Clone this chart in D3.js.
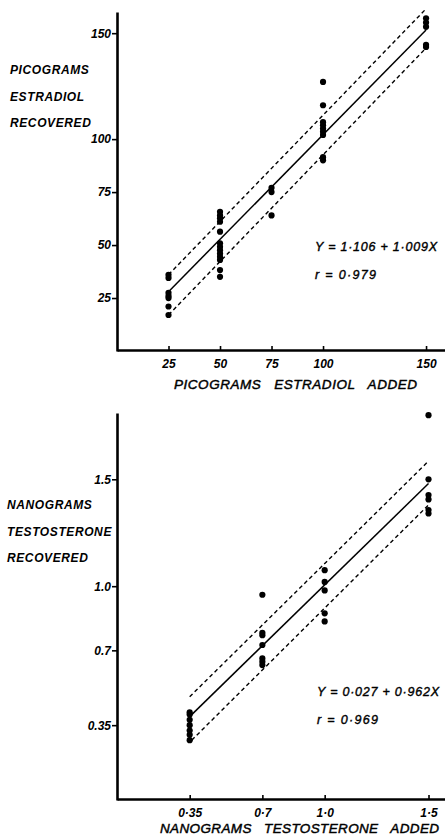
<!DOCTYPE html>
<html>
<head>
<meta charset="utf-8">
<script src="https://cdn.jsdelivr.net/npm/d3@7"></script>
<style>
  body { margin: 0; background: #fff; }
  svg { display: block; }
  text { font-family: "Liberation Sans", Arial, sans-serif; font-style: italic; fill: #000; white-space: pre; }
</style>
</head>
<body>
<svg id="chart" width="445" height="836"></svg>
<script>
// Estradiol panel (picograms)
const estradiolAdded = [25, 50, 75, 100, 150];
const estradiolRecovered = [
    [36, 34.5, 27.5, 26, 25, 21, 17],
    [65.7, 64, 62.6, 61, 56.3, 50.8, 49.2, 47.6, 46, 44.5, 43, 38.2, 35],
    [77, 75, 64],
    [127, 116, 108, 106.5, 105, 103.5, 102, 91.5, 90],
    [157, 155, 153, 144.5, 143.5]
];
const estradiolTicks = [25, 50, 75, 100, 150];
const estradiolTickLabels = ['25', '50', '75', '100', '150'];
const estradiolFit = [[25, 28], [150, 151.5]];
const estradiolUpper = [[25, 36], [150, 161.5]];
const estradiolLower = [[25, 17], [150, 143]];

// Testosterone panel (nanograms)
const testosteroneAdded = [0.35, 0.7, 1.0, 1.5];
const testosteroneRecovered = [
    [0.41, 0.40, 0.375, 0.35, 0.325, 0.305, 0.28],
    [0.96, 0.782, 0.771, 0.725, 0.662, 0.647, 0.631],
    [1.075, 1.02, 0.98, 0.873, 0.835],
    [1.80, 1.50, 1.426, 1.406, 1.356, 1.34]
];
const testosteroneTicks = [0.35, 0.7, 1.0, 1.5];
const testosteroneXLabels = ['0·35', '0·7', '1·0', '1·5'];
const testosteroneYLabels = ['0.35', '0.7', '1.0', '1.5'];
const testosteroneFit = [[0.35, 0.39], [1.5, 1.48]];
const testosteroneUpper = [[0.35, 0.483], [1.5, 1.585]];
const testosteroneLower = [[0.36, 0.28], [1.5, 1.38]];

const svg = d3.select('#chart');

function drawPanel(p) {
    let g = svg.append('g');
    let x = d3.scaleLinear().domain(p.xDomain).range([117, 445]);
    let y = d3.scaleLinear().domain(p.yDomain).range(p.yRange);
    let base = p.yRange[0] - 1;

    // y axis, ticks pointing out
    let yAxis = d3.axisLeft(y).tickValues(p.ticks)
        .tickFormat((d, i) => p.yLabels[i])
        .tickSizeInner(5).tickSizeOuter(0).tickPadding(1);
    let ya = g.append('g').attr('transform', 'translate(117,0)').call(yAxis);

    // x axis, ticks pointing in
    let xAxis = d3.axisBottom(x).tickValues(p.ticks)
        .tickFormat((d, i) => p.xLabels[i])
        .tickSizeInner(-4).tickSizeOuter(0).tickPadding(9);
    let xa = g.append('g').attr('transform', `translate(0,${base})`).call(xAxis);

    [ya, xa].forEach(a => {
        a.select('.domain').attr('stroke', '#000').attr('stroke-width', 2.6);
        a.selectAll('.tick line').attr('stroke', '#000').attr('stroke-width', 1.6);
        a.selectAll('text').attr('font-size', 12).attr('font-weight', 'bold')
            .style('font-family', '"Liberation Sans", Arial, sans-serif').style('font-style', 'italic');
    });

    let line = d3.line().x(d => x(d[0])).y(d => y(d[1]));
    g.append('path').attr('d', line(p.fit)).attr('fill', 'none')
        .attr('stroke', '#000').attr('stroke-width', 1.5);
    [p.upper, p.lower].forEach(band => {
        g.append('path').attr('d', line(band)).attr('fill', 'none')
            .attr('stroke', '#000').attr('stroke-width', 1.4).attr('stroke-dasharray', '4,3');
    });

    // points
    let pts = [];
    p.added.forEach((a, i) => p.recovered[i].forEach(v => pts.push([a, v])));
    g.selectAll('circle.pt').data(pts).join('circle').attr('class', 'pt')
        .attr('cx', d => x(d[0])).attr('cy', d => y(d[1])).attr('r', 3.1).attr('fill', '#000');

    // y title
    p.yTitle.forEach((t, i) => {
        g.append('text').attr('x', p.yTitleX).attr('y', p.yTitleY + i * 26.5)
            .attr('font-size', 12).attr('font-weight', 'bold').attr('letter-spacing', 0.6).text(t);
    });

    // x title
    g.append('text').attr('x', p.xTitleX).attr('y', p.xTitleY)
        .attr('font-size', 13.5).attr('font-weight', 'normal')
        .attr('stroke', '#000').attr('stroke-width', 0.45)
        .attr('textLength', p.xTitleLen).attr('lengthAdjust', 'spacing')
        .text(p.xTitle);

    // equation
    p.eq.forEach((t, i) => {
        g.append('text').attr('x', p.eqX).attr('y', p.eqY + i * 27.5)
            .attr('font-size', 12.5).attr('font-weight', 'normal')
            .attr('stroke', '#000').attr('stroke-width', 0.4)
            .attr('textLength', p.eqLen[i]).attr('lengthAdjust', 'spacing')
            .text(t);
    });
}

drawPanel({
    xDomain: [0, 159.2], yDomain: [0, 160], yRange: [351, 12],
    ticks: estradiolTicks, xLabels: estradiolTickLabels, yLabels: estradiolTickLabels,
    added: estradiolAdded, recovered: estradiolRecovered,
    fit: estradiolFit, upper: estradiolUpper, lower: estradiolLower,
    yTitle: ['PICOGRAMS', 'ESTRADIOL', 'RECOVERED'], yTitleX: 10, yTitleY: 74,
    xTitle: 'PICOGRAMS   ESTRADIOL   ADDED', xTitleX: 174, xTitleY: 389, xTitleLen: 243,
    eq: ['Y = 1·106 + 1·009X', 'r = 0·979'], eqX: 315, eqY: 251, eqLen: [122, 61]
});

drawPanel({
    xDomain: [0, 1.5794], yDomain: [0, 1.81], yRange: [800, 413],
    ticks: testosteroneTicks, xLabels: testosteroneXLabels, yLabels: testosteroneYLabels,
    added: testosteroneAdded, recovered: testosteroneRecovered,
    fit: testosteroneFit, upper: testosteroneUpper, lower: testosteroneLower,
    yTitle: ['NANOGRAMS', 'TESTOSTERONE', 'RECOVERED'], yTitleX: 7, yTitleY: 509,
    xTitle: 'NANOGRAMS   TESTOSTERONE   ADDED', xTitleX: 160, xTitleY: 833, xTitleLen: 279,
    eq: ['Y = 0·027 + 0·962X', 'r = 0·969'], eqX: 317, eqY: 696, eqLen: [122, 61]
});
</script>
</body>
</html>
